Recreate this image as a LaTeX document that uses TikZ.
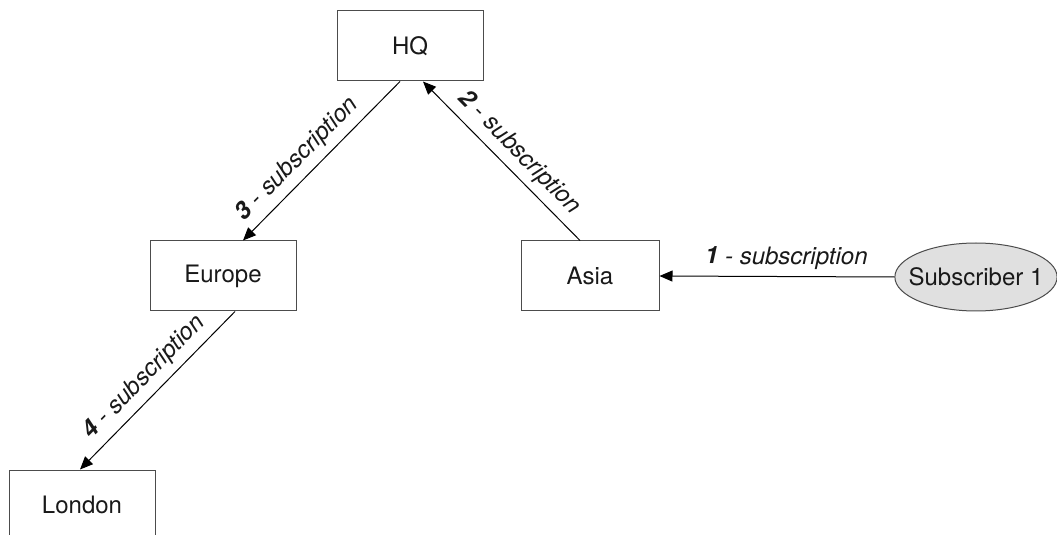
\documentclass[tikz,border=0pt]{standalone}
\usepackage{fontspec}
\setmainfont{TeX Gyre Heros}
\usepackage{tikz}
\usetikzlibrary{shapes.geometric,arrows.meta}
\tikzstyle{nodoscatola} = [rectangle,minimum width=73pt,minimum height=35pt,text centered,draw=black!70,line width=0.5pt,fill=white,text=black!90]
\tikzstyle{nodoovale} = [ellipse,minimum width=81pt,minimum height=34pt,inner xsep=-5pt,inner ysep=0pt,text centered,draw=black!70,line width=0.5pt,fill=black!12,text=black!90]
\tikzstyle{arrow} = [line width=0.5pt,-{Triangle[length=6.5pt,width=5.5pt]}]
\tikzstyle{etichetta} = [sloped,above,font=\fontsize{12}{14}\selectfont\itshape,text=black!90]

\begin{document}
\begin{tikzpicture}[x=0.5pt,y=-0.5pt]
\tikzstyle{every node}=[font=\fontsize{12}{14}\selectfont]

% 1 px = 0.5pt, origin top left
\clip (0,0) rectangle (1057,535);

\node (hq)     [nodoscatola] at (410,46)  {HQ};
\node (europe) [nodoscatola] at (223,276) {Europe};
\node (asia)   [nodoscatola,minimum width=69pt] at (590,276) {Asia};
\node (london) [nodoscatola] at (82,505)  {London};

\node (sub1)   [nodoovale] at (976,277) {Subscriber 1};

\draw[arrow] (sub1.west) -- node[etichetta,pos=0.46] {\textbf{1} - subscription} (asia.east);
\draw[arrow] ([xshift=-5pt]asia.north) -- node[etichetta,pos=0.47] {\textbf{2} - subscription} ([xshift=6.5pt]hq.south);
\draw[arrow] ([xshift=-5pt]hq.south) -- node[etichetta,pos=0.57] {\textbf{3} - subscription} ([xshift=10pt]europe.north);
\draw[arrow] ([xshift=6pt]europe.south) -- node[etichetta] {\textbf{4} - subscription} ([xshift=-1pt]london.north);

\end{tikzpicture}
\end{document}
